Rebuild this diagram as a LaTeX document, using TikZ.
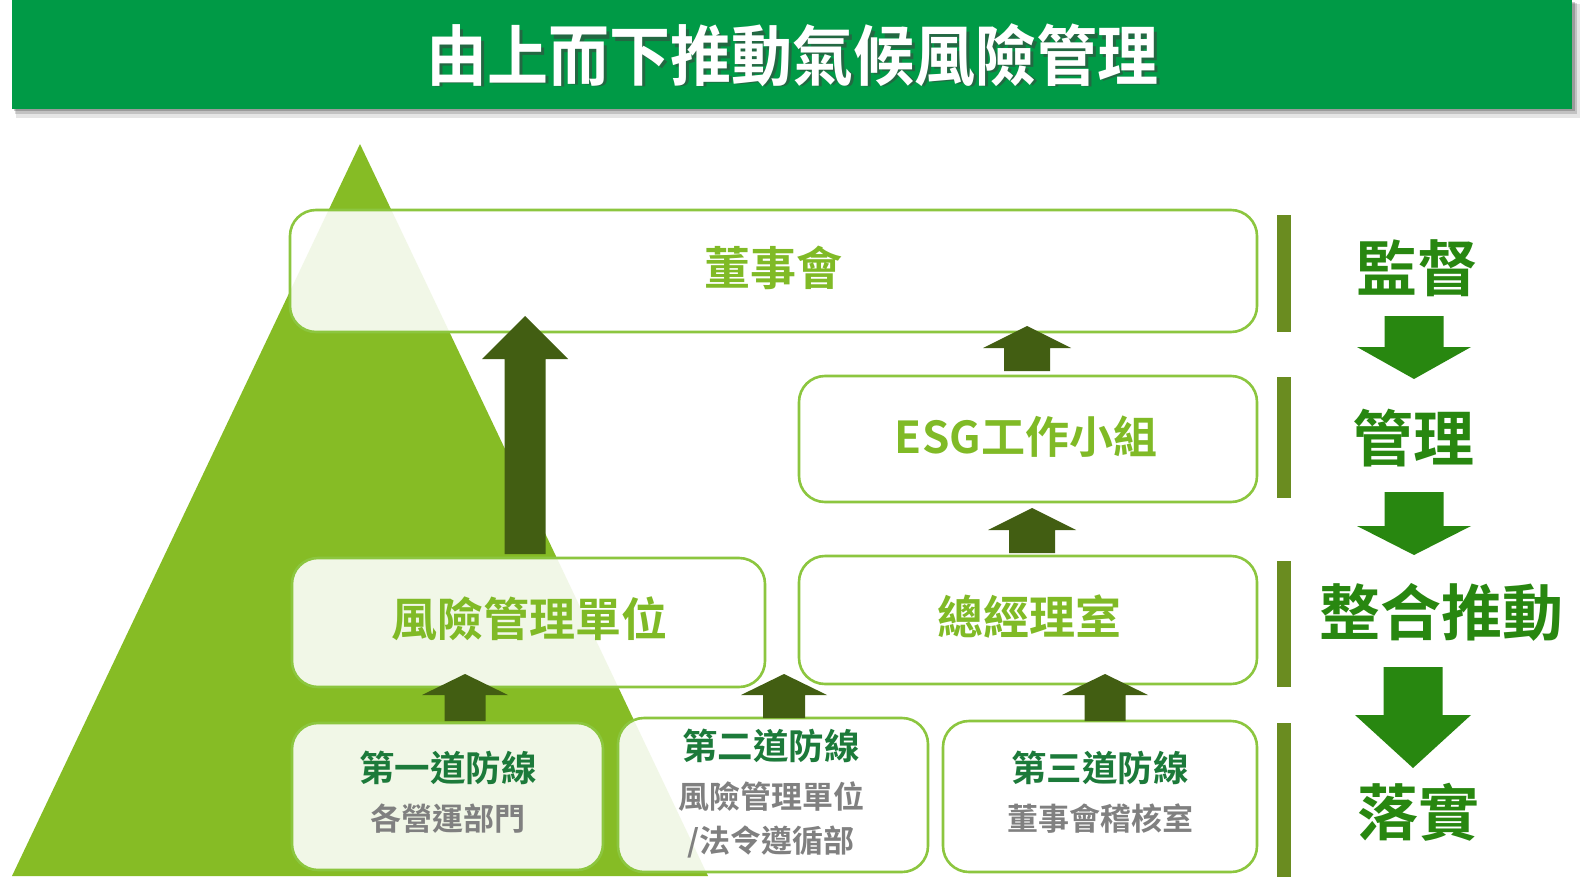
\documentclass[tikz,border=0pt]{standalone}
\usepackage{fontspec}
\newfontfamily\cjk{Noto Sans CJK TC}[BoldFont={Noto Sans CJK TC Bold}]
\definecolor{barGreen}{RGB}{0,154,70}
\definecolor{triGreen}{RGB}{134,188,37}
\definecolor{boxLine}{RGB}{140,198,63}
\definecolor{boxText}{RGB}{128,186,38}
\definecolor{headGreen}{RGB}{28,122,58}
\definecolor{subGray}{RGB}{128,128,128}
\definecolor{arrDark}{RGB}{66,94,18}
\definecolor{sideGreen}{RGB}{40,135,16}
\definecolor{barOlive}{RGB}{106,140,32}
\newcommand\blockup[6]{% cx, tip y, head base y, bottom y, head half width, shaft half width
  \fill[arrDark] (#1,#2) -- (#1+#5,#3) -- (#1+#6,#3) -- (#1+#6,#4) -- (#1-#6,#4) -- (#1-#6,#3) -- (#1-#5,#3) -- cycle;}
\newcommand\blockdown[6]{% cx, top y, head base y, tip y, head half width, shaft half width
  \fill[sideGreen] (#1-#6,#2) -- (#1+#6,#2) -- (#1+#6,#3) -- (#1+#5,#3) -- (#1,#4) -- (#1-#5,#3) -- (#1-#6,#3) -- cycle;}
\begin{document}
\begin{tikzpicture}[x=1pt,y=-1pt,
  box/.style={draw=boxLine, line width=2.6pt, rounded corners=26pt, fill=white, fill opacity=0.89, inner sep=0pt},
  boxtxt/.style={text=boxText, font=\cjk\bfseries\fontsize{46}{52}\selectfont, inner sep=0pt},
  lineh/.style={text=headGreen, font=\cjk\bfseries\fontsize{35.5}{40}\selectfont, inner sep=0pt},
  linesub/.style={text=subGray, font=\cjk\bfseries\fontsize{31}{36}\selectfont, inner sep=0pt},
  sidetxt/.style={text=sideGreen, font=\cjk\bfseries\fontsize{61}{66}\selectfont, inner sep=0pt},
  titletxt/.style={font=\cjk\bfseries\fontsize{61}{66}\selectfont, inner sep=0pt, yscale=1.08, transform shape}]
\useasboundingbox (0,0) rectangle (1585,878);
\fill[white] (0,0) rectangle (1585,878);
% title bar with shadow
\fill[black, opacity=0.10] (16,4) rectangle (1580,118);
\fill[black, opacity=0.15] (15,3) rectangle (1577,114);
\fill[black, opacity=0.20] (14,2) rectangle (1575,111);
\fill[barGreen] (12,0) rectangle (1572,109);
\begin{scope}[yscale=1.08]
\node[font=\cjk\bfseries\fontsize{61}{66}\selectfont, inner sep=0pt, text=black!75, opacity=0.55] (titleshadow) at (795,53.5) {由上而下推動氣候風險管理};
\end{scope}
\node[titletxt, text=white] (title) at (792,55) {由上而下推動氣候風險管理};
% triangle
\fill[triGreen] (360,144) -- (708,876) -- (12,876) -- cycle;
% boxes
\node[box, minimum width=967, minimum height=122] (board) at (773.5,271) {};
\node[box, minimum width=458, minimum height=126] (esg) at (1028,439) {};
\node[box, minimum width=473, minimum height=129] (risk) at (528.5,622.5) {};
\node[box, minimum width=458, minimum height=128] (gm) at (1028,620) {};
\node[box, minimum width=311, minimum height=147] (l1) at (447.5,796.5) {};
\node[box, minimum width=310, minimum height=154] (l2) at (773,795) {};
\node[box, minimum width=314, minimum height=151] (l3) at (1100,796.5) {};
% vertical bars
\fill[barOlive] (1277,215) rectangle (1291,332);
\fill[barOlive] (1277,377) rectangle (1291,498);
\fill[barOlive] (1277,561) rectangle (1291,687);
\fill[barOlive] (1277,723) rectangle (1291,877);
% up arrows
\blockup{525}{316}{359}{554}{43}{20.5}
\blockup{1027}{326}{348}{371}{44}{23}
\blockup{1032}{508}{530}{553}{44}{23}
\blockup{465}{674}{695}{721}{43}{20.5}
\blockup{784}{674}{695}{718}{43}{21}
\blockup{1105}{674}{695}{721}{43}{20.5}
% down arrows
\blockdown{1414}{316}{347}{379}{57}{29.5}
\blockdown{1414}{492}{526}{555}{57}{29.5}
\blockdown{1413}{667}{715}{768}{58}{29.5}
% texts
\node[boxtxt] (tboard) at (773,268) {董事會};
\node[boxtxt, font=\cjk\bfseries\fontsize{44}{50}\selectfont] (tesg) at (1026,437) {ESG工作小組};
\node[boxtxt] (trisk) at (529,619) {風險管理單位};
\node[boxtxt] (tgm) at (1029,617) {總經理室};
\node[lineh] (h1) at (448,768) {第一道防線};
\node[linesub] (s1) at (448,819) {各營運部門};
\node[lineh] (h2) at (771,746) {第二道防線};
\node[linesub] (s2a) at (771,797) {風險管理單位};
\node[linesub] (s2b) at (771,842) {/法令遵循部};
\node[lineh] (h3) at (1100,768) {第三道防線};
\node[linesub] (s3) at (1100,819) {董事會稽核室};
\node[sidetxt] (r1) at (1417,268) {監督};
\node[sidetxt] (r2) at (1413,438) {管理};
\node[sidetxt] (r3) at (1441,612) {整合推動};
\node[sidetxt] (r4) at (1418,812) {落實};
\end{tikzpicture}
\end{document}
